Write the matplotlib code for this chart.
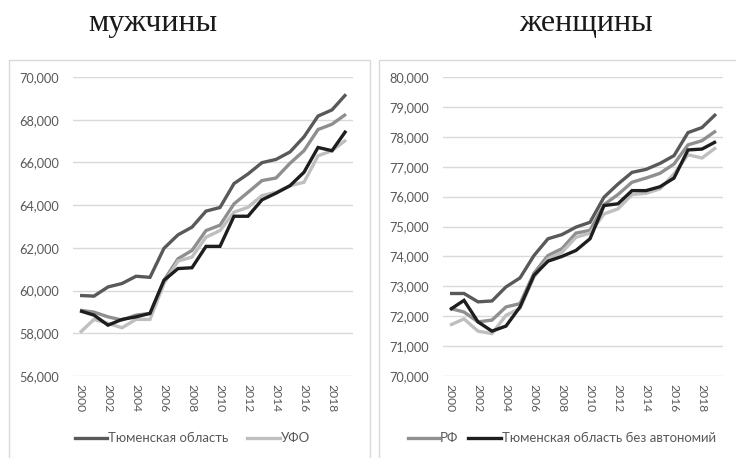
import matplotlib
matplotlib.use("Agg")
import matplotlib.pyplot as plt
from matplotlib.patches import Rectangle
from matplotlib.ticker import FuncFormatter, FixedLocator

years = list(range(2000, 2020))

# мужчины
m_tyumen = [59.77, 59.74, 60.17, 60.33, 60.67, 60.62, 61.98, 62.61, 62.97, 63.72,
            63.89, 65.01, 65.46, 65.99, 66.14, 66.49, 67.20, 68.17, 68.46, 69.19]
m_rf = [59.08, 58.99, 58.77, 58.62, 58.85, 58.93, 60.48, 61.49, 61.88, 62.81,
        63.06, 64.06, 64.60, 65.15, 65.27, 65.96, 66.55, 67.54, 67.79, 68.26]
m_ufo = [58.03, 58.65, 58.46, 58.26, 58.65, 58.65, 60.33, 61.38, 61.57, 62.50,
         62.81, 63.67, 63.90, 64.45, 64.60, 64.91, 65.07, 66.31, 66.55, 67.05]
m_tyumen_wo = [59.05, 58.85, 58.38, 58.65, 58.77, 58.93, 60.48, 61.03, 61.07, 62.07,
               62.07, 63.48, 63.48, 64.25, 64.56, 64.91, 65.54, 66.70, 66.55, 67.48]

# женщины
f_tyumen = [72.76, 72.76, 72.48, 72.51, 72.98, 73.28, 74.03, 74.59, 74.73, 74.98,
            75.14, 75.98, 76.42, 76.81, 76.91, 77.11, 77.37, 78.14, 78.31, 78.76]
f_rf = [72.26, 72.14, 71.81, 71.87, 72.31, 72.42, 73.44, 74.03, 74.26, 74.78,
        74.87, 75.73, 76.07, 76.48, 76.62, 76.78, 77.09, 77.73, 77.87, 78.20]
f_ufo = [71.70, 71.91, 71.50, 71.42, 72.03, 72.26, 73.31, 73.92, 74.14, 74.64,
         74.78, 75.42, 75.59, 76.07, 76.11, 76.26, 76.76, 77.40, 77.29, 77.64]
f_tyumen_wo = [72.22, 72.53, 71.81, 71.50, 71.67, 72.31, 73.37, 73.84, 74.00, 74.20,
               74.59, 75.70, 75.76, 76.20, 76.20, 76.33, 76.62, 77.56, 77.59, 77.84]

titles = ["мужчины", "женщины"]
m_yticks = [56, 58, 60, 62, 64, 66, 68, 70]
f_yticks = [70, 71, 72, 73, 74, 75, 76, 77, 78, 79, 80]
xtick_years = list(range(2000, 2019, 2))

c_tyumen = "#595959"
c_rf = "#8f8f8f"
c_ufo = "#bfbfbf"
c_wo = "#1e1e1e"
lw = 2.4

W, H = 736, 458
fig = plt.figure(figsize=(W / 100, H / 100), dpi=100)
fig.patch.set_facecolor("white")

def fx(px):
    return px / W

def fy(py):
    return 1 - py / H

# chart boxes
for x0, x1 in [(9, 370), (379, 745)]:
    fig.patches.append(Rectangle((fx(x0), fy(470)), fx(x1) - fx(x0), fy(60) - fy(470),
                                 transform=fig.transFigure, fill=False,
                                 edgecolor="#d9d9d9", linewidth=1.0, zorder=0))

fmt = FuncFormatter(lambda v, p: f"{v:.3f}".replace(".", ","))
tick_font = "Lato"

def make_ax(left_px, right_px, data, yticks, legend_specs):
    ax = fig.add_axes([fx(left_px), fy(376), fx(right_px) - fx(left_px), fy(77) - fy(376)])
    for vals, col in data:
        ax.plot(years, vals, color=col, linewidth=lw, solid_capstyle="butt",
                solid_joinstyle="miter", zorder=3)
    ax.set_xlim(1999.5, 2019.5)
    ax.set_ylim(yticks[0], yticks[-1])
    ax.yaxis.set_major_locator(FixedLocator(yticks))
    ax.yaxis.set_major_formatter(fmt)
    ax.set_xticks(xtick_years)
    ax.set_xticklabels([str(y) for y in xtick_years], rotation=-90,
                       fontsize=8.7, color="#595959", family=tick_font)
    for lab in ax.get_yticklabels():
        lab.set_fontsize(9.2)
        lab.set_color("#595959")
        lab.set_family(tick_font)
    ax.tick_params(axis="both", length=0)
    ax.tick_params(axis="y", pad=10)
    ax.tick_params(axis="x", pad=6)
    ax.grid(axis="y", color="#d9d9d9", linewidth=1.0, zorder=0)
    for s in ax.spines.values():
        s.set_visible(False)
    ax.set_facecolor("none")
    # legend
    for (lx0, lx1, label, col) in legend_specs:
        fig.add_artist(plt.Line2D([fx(lx0), fx(lx1)], [fy(438), fy(438)],
                                  transform=fig.transFigure, color=col, linewidth=lw))
        fig.text(fx(lx1 + 1), fy(438), label, ha="left", va="center",
                 fontsize=9.5, color="#595959", family=tick_font)
    return ax

make_ax(73, 353,
        [(m_tyumen, c_tyumen), (m_rf, c_rf), (m_ufo, c_ufo), (m_tyumen_wo, c_wo)],
        m_yticks,
        [(75, 107, "Тюменская область", c_tyumen), (247, 280, "УФО", c_ufo)])
make_ax(443, 723,
        [(f_tyumen, c_tyumen), (f_rf, c_rf), (f_ufo, c_ufo), (f_tyumen_wo, c_wo)],
        f_yticks,
        [(408, 439, "РФ", c_rf), (468, 501, "Тюменская область без автономий", c_wo)])

fig.text(fx(153), fy(31), titles[0], ha="center", va="baseline",
         fontsize=23, family="Liberation Serif", color="#1a1a1a")
fig.text(fx(586), fy(31), titles[1], ha="center", va="baseline",
         fontsize=23, family="Liberation Serif", color="#1a1a1a")

fig.savefig("out.png", dpi=100, facecolor="white")
